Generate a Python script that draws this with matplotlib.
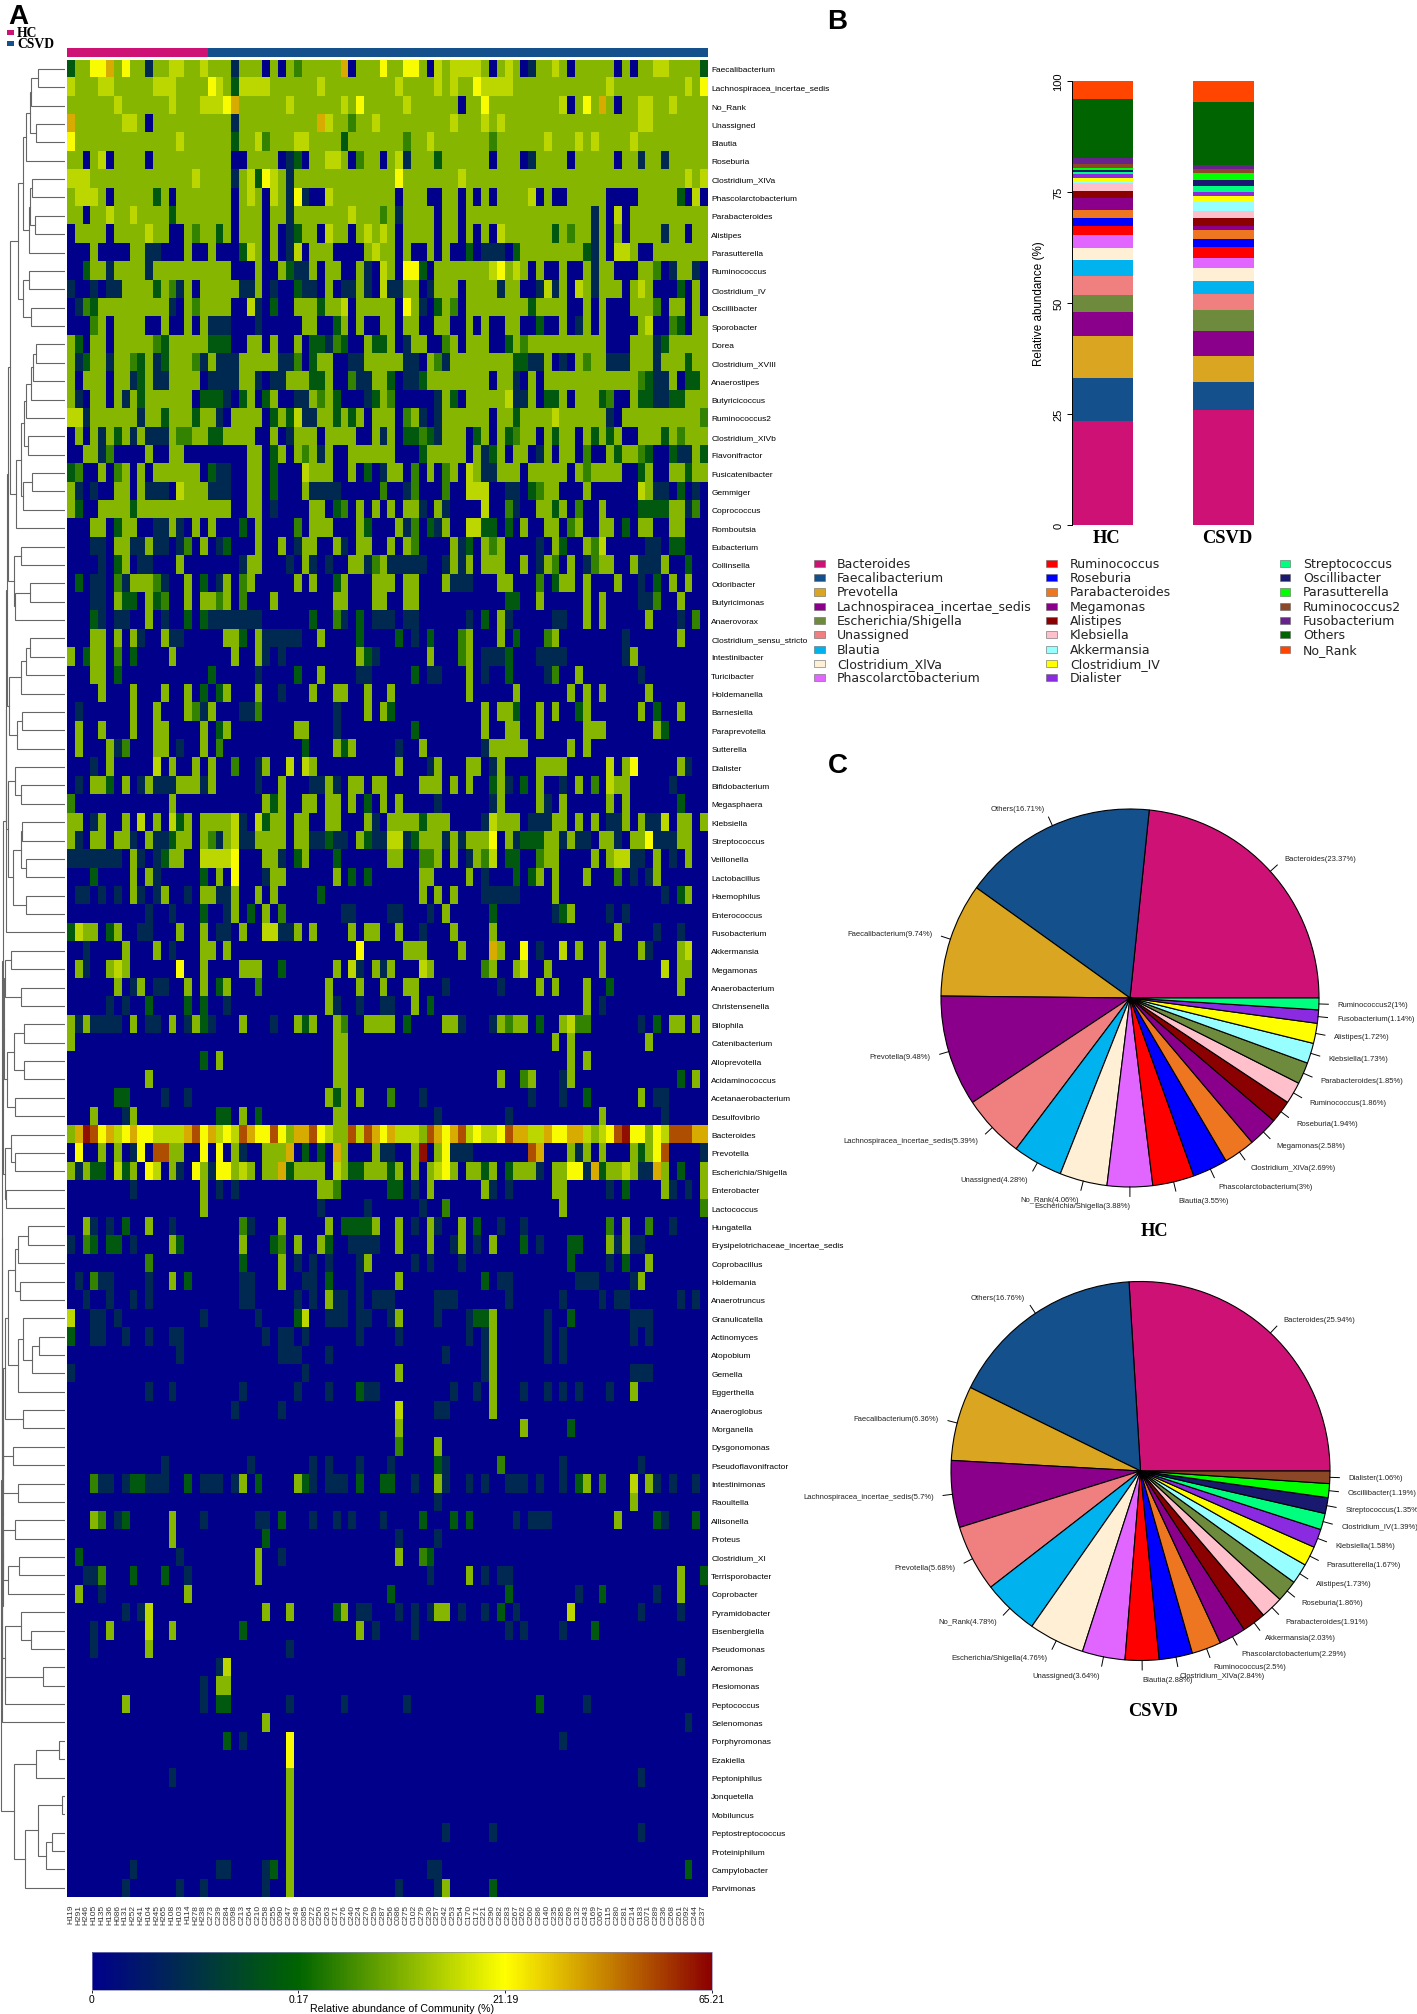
import matplotlib
matplotlib.use("Agg")
import matplotlib.pyplot as plt
import numpy as np
from matplotlib.colors import LinearSegmentedColormap, ListedColormap
from matplotlib.patches import Rectangle

W, H = 1417, 2015

genera = ["Faecalibacterium", "Lachnospiracea_incertae_sedis", "No_Rank", "Unassigned", "Blautia", "Roseburia",
          "Clostridium_XlVa", "Phascolarctobacterium", "Parabacteroides", "Alistipes", "Parasutterella",
          "Ruminococcus", "Clostridium_IV", "Oscillibacter", "Sporobacter", "Dorea", "Clostridium_XVIII",
          "Anaerostipes", "Butyricicoccus", "Ruminococcus2", "Clostridium_XlVb", "Flavonifractor",
          "Fusicatenibacter", "Gemmiger", "Coprococcus", "Romboutsia", "Eubacterium", "Collinsella", "Odoribacter",
          "Butyricimonas", "Anaerovorax", "Clostridium_sensu_stricto", "Intestinibacter", "Turicibacter",
          "Holdemanella", "Barnesiella", "Paraprevotella", "Sutterella", "Dialister", "Bifidobacterium",
          "Megasphaera", "Klebsiella", "Streptococcus", "Veillonella", "Lactobacillus", "Haemophilus",
          "Enterococcus", "Fusobacterium", "Akkermansia", "Megamonas", "Anaerobacterium", "Christensenella",
          "Bilophila", "Catenibacterium", "Alloprevotella", "Acidaminococcus", "Acetanaerobacterium",
          "Desulfovibrio", "Bacteroides", "Prevotella", "Escherichia/Shigella", "Enterobacter", "Lactococcus",
          "Hungatella", "Erysipelotrichaceae_incertae_sedis", "Coprobacillus", "Holdemania", "Anaerotruncus",
          "Granulicatella", "Actinomyces", "Atopobium", "Gemella", "Eggerthella", "Anaeroglobus", "Morganella",
          "Dysgonomonas", "Pseudoflavonifractor", "Intestinimonas", "Raoultella", "Allisonella", "Proteus",
          "Clostridium_XI", "Terrisporobacter", "Coprobacter", "Pyramidobacter", "Eisenbergiella", "Pseudomonas",
          "Aeromonas", "Plesiomonas", "Peptococcus", "Selenomonas", "Porphyromonas", "Ezakiella", "Peptoniphilus",
          "Jonquetella", "Mobiluncus", "Peptostreptococcus", "Proteiniphilum", "Campylobacter", "Parvimonas"]

samples = ["H119", "H291", "H246", "H105", "H135", "H136", "H086", "H131", "H252", "H241", "H104", "H245", "H265",
           "H108", "H103", "H114", "H278", "H238", "C273", "C239", "C284", "C098", "C213", "C264", "C210", "C258",
           "C255", "C090", "C247", "C249", "C085", "C272", "C250", "C263", "C271", "C276", "C240", "C224", "C270",
           "C259", "C287", "C256", "C086", "C275", "C102", "C279", "C230", "C257", "C242", "C253", "C254", "C170",
           "C171", "C221", "C290", "C282", "C283", "C267", "C262", "C260", "C286", "C140", "C235", "C285", "C269",
           "C132", "C243", "C169", "C067", "C115", "C280", "C281", "C214", "C183", "C071", "C289", "C236", "C268",
           "C261", "C092", "C244", "C237"]

# heatmap cells: first digit is the row's usual level,
# then column:level exceptions. level 0 navy ... 4 olive ... 6 yellow ... 9 dark red
rows_top = [
    "4 0:2 3-4:6 5:7 7:6 10:1 13-14:5 17:5 21:1 25:0 27:0 29:3 35:7 36:0 40:6 43-44:6 46:0 47:5 49-50:5 51-52:5 54:0 56:5 58:0 59:1 62:5 64:0 70:0 72:0 75-76:5 81:2",
    "4 0:5 4-5:5 11-13:5 18:6 19:5 21:2 22-25:5 32:5 42:5 47:5 49:5 52:6 53-56:5 69:5 79:5 81:6",
    "4 6:5 13:5 17-19:5 20:6 21:7 28:5 35:5 37:6 43:5 50:0 53:6 63:5 64:0 66:6 68:7 70:0 73-74:5 77:5",
    "4 0:7 7-8:5 10:0 21:1 32:7 33:5 36:3 39:5 49:5 53:5 55:5 73-74:5",
    "4 0:6 14:5 21:2 24:5 25:3 29-30:5 35:2 43:3 46:5 54:3 61:5 65:5 67:5 72:5",
    "4 2:0 4:5 5:0 10:0 21-22:0 27:0 28:1 29:2 30:0 33-34:5 36:0 37:3 40:0 42:5 43:1 47:2 54:0 58:0 59:1 64:0 70:0 73:1 76:1",
    "4 0-2:5 16:5 21:1 23:5 24:2 25:6 26:5 28:1 42:6 50:5 79:5 81:5",
    "4 1-3:5 5:0 11:2 13:0 21:0 23:5 25:0 26:5 28:1 29:6 30:1 31-32:0 33:5 42:0 46-47:0 50:0 52:0 54:0 59:5 60:0 62-63:0 69-72:0 78:2 79:0 80:5 81:0",
    "4 2:0 5:5 8:5 13:2 21:0 25:0 28:1 36:5 40:3 42:1 47:0 50:0 67:1 69:0 70:5 71:0",
    "4 0:0 5:0 10:5 13-14:0 16:3 19:2 21:0 25:0 27:0 28:1 29:2 32:0 33:5 36:0 38:5 40:5 42:0 47:0 50:0 52:0 54:0 55:5 62:2 64:3 67:1 69:0 71:0 76:1 79:0",
    "4 0-2:0 4-7:0 10-11:1 12-14:0 16-17:0 19-21:0 22:2 23:5 25:0 27:0 28:1 29:5 30:0 34-37:0 39:5 42:0 44-45:0 47:0 49-50:0 51:2 52:0 53-55:1 56:0 57:2 66:2 67:1 69:0 70-71:5 73-74:0",
    "4 0-1:0 2:2 5:1 10:1 21-23:0 25-26:0 28:2 29-30:1 32:0 35-36:0 38:1 39:0 40:5 42:0 43-44:6 45:2 46:0 54:5 55:6 57:5 59:0 61-62:0 64-65:0 67:1 70-72:0 75:3 76:0 77:1 80:1 81:0",
    "4 0:1 1-2:0 3:1 4:0 5-6:1 11:2 13:3 14:1 16:0 22-23:1 25:0 26:1 27-28:0 29:2 30-31:1 32:0 34:0 35-36:1 38:1 39:0 40:5 41-42:1 45:0 46:1 50:0 55:1 58-59:0 60:1 61:5 62:1 64:0 65:5 67:1 71:0 73:5 75-77:0 78:2 79:0 81:0",
    "4 0:0 1:1 2:3 3:2 13:1 14:0 16:3 21-22:0 23:5 24:1 25:0 26:2 27-28:0 32:2 35:5 36:0 42:0 43:6 45:1 46:0 47:2 49:3 50:0 59:2 64-65:0 67:0 69-71:0 75:3 76:0 79:0 81:0",
    "4 0-2:0 3:3 5:0 10-11:0 13-14:0 16:0 18-20:1 21-23:0 24:1 25-29:0 32-33:0 34:2 36:0 38-39:0 42:0 45-46:0 49-50:0 52:0 54-55:0 58-59:0 60:2 61-62:0 64:0 65:1 67:0 69-72:0 74:5 75-76:0 77:3 78:2 79:0",
    "4 1:2 2:0 5:0 11:3 12:2 18-20:2 21-22:0 25:0 27-28:0 30:0 31-32:2 33:1 34:3 35:2 36-37:0 39-40:2 42:0 43:1 46-47:0 48:3 50:0 54-55:0 56:2 58:3 69-71:0 75:1 76:2",
    "4 1:1 2:2 5:1 8:3 9:2 11:1 12:2 16:3 17:1 19-21:1 27-28:1 29:3 30:0 31:2 34-35:0 36-37:1 43-44:1 45:0 47:3 48:1 57-58:2 59-60:1 62:0 63:1 64:0 66:3 69-71:1 75:1 79:2",
    "4 1:0 5:0 8:1 9:2 11-12:1 17:0 18-21:1 24:1 25:0 26:1 27:1 31-32:2 34-35:0 36:3 37-38:1 41:2 42:0 43-44:1 45:2 54:0 57:1 58:0 60:0 73:3 74:2 75-76:1 78:0 79-80:2",
    "4 1:1 2:0 5:0 7:1 9:2 16:0 17-19:2 20:1 21:0 22:2 24:0 25:2 27-28:0 29-30:1 32:3 34:2 35-37:0 38:1 39:2 41:3 42-43:0 44-46:0 47:1 49:2 50:0 56:5 57-58:1 60:0 61-62:2 64:0 68:2 69:3 70-71:0 73-74:2 75-76:1 77-78:2",
    "4 0-1:5 2:1 9:1 12:2 16:2 19:1 20:0 25:0 26:2 28:2 29:5 30-31:1 34:2 36:2 38:0 42:0 43:3 45:1 46:0 47:1 54:0 57:2 62:5 69:1 70:0 81:3",
    "4 0:0 2:0 4:1 6:2 8:1 10-12:1 14-15:3 18-19:2 24-25:0 27:0 28:1 32:0 37-38:0 40:1 42:0 43-44:2 45:3 46:2 47:1 51:0 52:2 54:0 56:2 57:3 60:0 62:2 65:0 67:2 69:2 71-72:0 76:2 78:3",
    "4 0-1:0 4:1 5:3 6-9:0 11-12:0 15-22:0 25:0 26:2 28:0 30:3 32:1 34-35:0 42-44:0 45:2 51:0 53:1 54:2 56:0 59:0 60:1 62:0 65:0 66:3 67-68:0 70:2 73:3 74:2 75-76:0 77:2 78-79:1 81:2",
    "4 0:2 1:3 2-3:0 5:0 6:3 8:0 10:0 17:0 18:2 19-20:1 21-22:0 25:0 26:2 27-29:0 30:5 34-35:0 37:0 38:2 39:0 40:1 43:0 44:3 45:0 47:0 48:3 50:0 51:5 53-54:1 58:0 64:0 66:3 71-72:0 73:2 75-76:0 79:2",
    "0 0:4 1:1 3:1 6-7:4 9:4 10-12:1 14:5 15-17:4 18-20:1 23-24:4 26:2 30:4 31-34:1 40:3 43:1 44:3 48:3 51-53:5 56-57:1 59:2 60:3 61-62:4 66:4 73:5 74:4 75-76:1 78:2 80:1",
    "0 0:4 1:2 4-7:4 8:2 9-20:4 23-24:4 26:1 31-32:4 34:2 35:3 37:4 39:4 41:4 43-44:4 45:1 47:4 48:1 53:5 56:3 57:1 60-61:4 62:2 63:4 65:3 68:4 73-76:2 77-78:4 79:1 80:3",
]

rows_mid = [
    "0 3-4:4 6:2 7-8:4 11-12:1 13:4 14:1 16:4 18:4 22:2 24:4 29:3 31-33:4 37:4 38:2 42:4 43:1 44:3 46:2 47:1 48:4 51-52:5 53-54:2 56:2 58:4 61-62:4 64:3 65:4 68-69:4 71:2 73-74:4 77-78:4",
    "0 3-4:1 6-7:4 8-9:1 10:4 11-12:1 14:1 15:3 17:4 19:1 20:2 24:4 27:4 29:1 30-31:4 34:4 35:1 37-38:4 41:4 43:4 44:3 49:4 50:1 51:2 53:4 54:3 55:4 60:1 62:4 63:2 66:4 67:3 68:5 74-75:1 77-78:2",
    "0 4:1 6:2 7:4 9:1 10:1 14:4 22:1 23-24:4 28:1 30:4 31:1 33:1 36-37:4 38:1 39:3 40:4 41:1 42-45:1 48:1 49:4 50:1 51:4 53-55:4 58:4 60:1 61:4 62:3 64:4 66:1 67:3 68-69:4 72:4 73-75:1 76:4 79:2",
    "0 1:2 3-4:1 6:3 7:1 8-10:4 11:3 12:1 15:4 17:2 19:1 20:4 22:3 23:4 29:4 31:4 34:2 35:4 39-41:4 43-44:4 48:4 49-51:1 55-56:4 60:3 62:2 63-64:4 66:4 70:4 73:1 75:2 77:4 79:4",
    "0 3-4:1 6:4 7-8:2 10:4 11:2 12:3 15:4 17-18:4 19:3 20:4 22:3 26:4 34-35:4 39-40:4 43-44:4 56-57:2 60:4 66:4 68:4 73-74:1 75:3 78:4",
    "0 3:2 4:1 6-7:1 10:4 12:1 15:2 17:2 18-24:1 31:2 34:3 35:1 37:2 39-41:1 43-44:1 51:1 53:2 55:4 56:1 62:1 63:1 66:4 68:4 74:4 78:1 80:3",
    "0 3-4:4 6:4 8:4 9:1 12:4 13-14:1 20-21:4 22:2 24:4 25-29:1 32:4 37:2 42:2 44:1 46:2 50:3 51:4 55:4 57:2 61:3 62:4 71:1 78:4",
    "0 0:4 2:2 3-4:4 6:3 8:2 13:4 21:4 24:4 25:1 27:1 37:4 38:2 39:1 46:4 50:3 51:4 53-55:1 56:2 60-63:1 71:1 72:4",
    "0 3-4:4 6:2 18:2 24:1 29:2 32:4 37-38:1 44:2 46-47:1 51:4 53:1 56:2 61:1 62:3 65:4 73:1",
    "0 4:4 8:4 12:4 15:4 17:2 19:2 20:4 24:4 27:1 31:4 34-35:4 38:4 41:4 51:4 57:4 64:4 66:4 68:4 74:4",
    "0 1:1 8:4 11:4 15:4 16:3 17:1 18:4 22-23:1 24:3 34:1 38:4 40:4 41:2 53:4 55-56:4 57:2 60:4 62:4 65:2 66:4 73:4 75:2 78:4",
    "0 1:4 4:4 8:4 11-12:4 17:4 19:2 20:4 29-30:4 34:1 44:2 53:4 56-57:4 60:4 66-68:4 75:4 76:2",
    "0 1:4 5:4 6:1 7:3 11-12:4 14:1 17:4 19:3 30:2 34:4 35:2 36:4 42:1 45:4 53:1 54-58:4 64:4 66:4",
    "0 3:1 5:4 11:5 13:4 16:4 18:4 21:3 24:1 25:4 28:5 30:5 31:4 42:4 46:1 47:4 51-52:4 54:1 55:4 60-63:4 69:5 71:4 72:6 78:4 79:1",
    "0 1:1 3-4:4 5:2 7:4 9:1 10:4 11-13:1 14-16:4 17:1 18:4 24:1 27:4 31-32:1 33:4 34:1 36-37:4 39-40:4 45-47:4 49:4 51:4 54:2 55:4 56:1 58:2 60:4 63:1 65:4 67:3 69:5 70-71:4 77:1",
    "0 0:3 13:4 25:4 26:2 27:4 30-31:4 33-34:4 36:4 38:2 40:4 42:4 47:1 54:1 55:4 60:4 61:1 63:4 69:4 71:4 78:2",
    "0 0-1:4 3:1 4:4 7:4 9:5 11:4 13:5 14:2 15:4 17-20:4 21:5 22:1 24:5 25:2 26-27:4 29-30:4 33-34:4 38:4 39:1 41-44:4 45:2 46-48:4 53:1 54:5 55-57:4 59-61:1 62-63:4 65:4 67:4 69-70:1 71:4 73:4 74-75:1 76:5 78-79:4 81:4",
    "0 0:4 1:1 3-4:4 6-7:4 8:1 10:4 11-12:1 13:2 14-15:4 17:4 18:3 19:1 20:4 21:5 22-23:1 24-27:4 29-30:4 31-32:1 33:2 34-35:1 37:4 38:2 39-40:1 41-42:5 43:1 44:2 45-47:4 48:1 49:4 50:1 51-53:4 54:6 56:4 57:1 58-60:2 61-62:4 63:1 64:4 65-66:1 68-69:4 70:1 72-73:4 74:6 75-77:1 78-79:4",
    "0 0-6:1 8:4 9:1 11:1 12:2 13-14:4 17-20:5 21:6 25-26:4 27:1 29:2 30:4 34:2 41-42:4 45-46:3 47:4 49:4 51:1 52:4 53:3 54:5 56-57:2 60:3 61-62:4 67:4 69:4 70-71:5 72-73:1 75:4 77:1 79:4",
    "0 3:2 8:4 10:4 11:1 17:2 19:4 21:6 25:1 26-27:4 34:4 36:2 38:2 45-46:4 51:4 53:1 57:2 59:2 60:4 62:4 66:4 70:3 72:1 74:1 75:4",
    "0 1-2:1 4:1 6:1 8:4 9:1 11:1 12:4 15:1 17-18:4 19-20:1 21:4 24:4 26:4 32:2 45:4 47:4 49:4 53-57:1 62:4 76:1 78:2 79:4",
    "0 10:1 13:1 17:2 20:1 21:4 23:2 25:4 27:3 35-36:1 41-42:1 46:1 48:4 54:2 62:1 63:2 64:4 69:1 71:1",
    "0 0:2 1:5 2-3:4 5:2 6:4 9-10:1 14:4 17:4 19-20:1 22:4 25-26:5 27-28:1 29:4 31:4 36:4 38-39:4 42:4 45:1 49:4 54:4 70:4 75:1 78:1",
    "0 2:1 7:4 11:4 13:1 17-18:4 20:4 37:6 43-45:4 50:4 54:7 55:4 58:6 60:1 63:5 65:4 68:4 73:4 74:1 78:4 79:5",
    "0 1:4 2:1 5:4 6:5 7:4 14:6 17:4 22-24:4 27:2 34:4 36:5 37:1 39:4 40:1 41:4 45:5 46:4 53:3 54:4 57:4 58:5 61:4 68:4 76:5 78-79:4",
]

rows_low = [
    "0 6:4 8:1 9:4 11-12:1 15:4 17:4 19:2 20:4 24:3 33:4 37:4 40:4 43-44:4 48:1 55:1 60:4 62:4 66:4 69:2 78:4",
    "0 5:1 7:1 10:2 15:2 17:2 20:1 33:4 34:1 37:1 40-41:1 44:4 46:2 66:4 68:1",
    "0 0:4 1:1 2:4 3-6:1 8:4 10-11:1 13:4 15:1 16:4 17:2 18:1 22:4 26:1 29:4 30:2 31:4 34:4 35:3 38-41:4 43:2 48-49:4 50:1 54:1 55:4 56:3 57-58:4 60:2 63:4 64:5 65-66:3 73:1 75:2 77-78:4 80:4",
    "0 0:4 34-35:4 62:4 64:4 74:4",
    "0 17:2 19:4 34-35:4 64:4 66:4",
    "0 10:4 34-35:4 55:4 58:3 59:4 63:1 64:4 78:2 80:4",
    "0 6-7:2 12:1 15:1 33:4 34:2 35:4 37:4 41:3 45:1 59:1 63:1 66:2 73:4 75-76:1",
    "0 3:4 7:1 8:4 19-20:2 22:4 24:2 34-35:4 47:1 56:1 68:4 76:1",
    "4798675676655557867565876686477865448587675554876785655687755766775456896646588877",
    "0 1:6 4:4 6:4 8:1 9:6 11-12:8 13-14:4 17:6 19:6 21:4 22:1 25-27:4 28:7 30:2 32:2 34:7 35:4 39:4 40-41:1 44:4 45:9 47:4 48:6 49-51:1 59:8 60:7 64:4 65:1 66:4 68:4 72:4 73:2 74:4 75:6 76:8 81:1",
    "4 1:1 3-4:2 5:0 6:5 7:2 9:0 10:6 11:5 12:0 14:1 15:0 16:6 18:1 19-20:6 22:5 24:0 27:7 28:2 33:0 34:5 36-37:2 41:2 43:0 45:0 47:5 48:6 50:0 53:2 55:0 56:2 60:1 61:0 64-65:6 66:1 67:7 68:2 71:5 73-74:1 75:7 77:0 78:2 79-80:0",
    "0 8:1 17:4 19:1 21:1 32-33:4 34:3 41-42:2 44:1 46:4 53:4 54:1 56:1 62-63:4 69:1 71:2 76:4 77:1 79:1 81:4",
    "0 17:4 32:1 38:1 45:1 48:3 63:4 81:3",
    "0 2:4 3:1 5:1 7:2 10:4 13:1 22:3 23:1 27:4 33:4 35-38:2 39:4 42:4 44:1 46:4 47:1 50:4 52:2 55:1 58:1 69:3 71:4 74:3 77:1",
    "0 0:1 2:3 3:2 5-6:2 8:1 13:4 14:2 22:4 26:2 27:3 29:4 32:4 33:2 36-39:1 42:4 46:4 49:1 50:4 52:1 54:4 58:2 60:1 64-65:2 69:4 70:1 71:4 72-73:1",
    "0 10:3 22:2 27:4 29:1 31:1 33:1 37:1 38:4 44:1 46:1 50:1 64:2 69:1 71:2 74:4",
    "0 1:1 3:3 4-5:1 10:1 13:4 15:2 22-23:1 27:4 30-31:1 33:2 37:1 42:4 53:2 55-56:1 65-67:1 72:1 73:4",
    "0 2:1 5:1 8:1 10:1 22-23:1 29:1 31:1 33:4 34-35:1 37:1 39-41:1 47-49:1 56:1 63:1 68:1 70-71:1 78:1 80:1",
    "0 0:5 3-4:1 6:1 17:1 24:1 29:2 30:5 33-35:1 37-38:1 41:1 42:4 47:1 51:1 52-53:2 54:4 61:1 64:2 72-74:1",
    "0 0:2 3-4:1 7:1 10:1 13-14:1 25:1 27-28:1 30:1 37:1 42:1 51:1 53:1 54:4 61:1 63:1 72:1 74:1",
    "0 14:1 27-29:1 33:1 48:1 53:1 54:4 61:1 63:1",
    "0 0:1 30:1 42:4 53:1 54:4 72-74:1",
    "0 10:1 13:1 22:1 29:1 33:1 37:2 38-39:1 49:1 52:1 54:4 58:1 61:1 63:1 65:1 69:1 72:4",
    "0 21:1 27:1 42:5 47-48:1 54:4",
    "0 42:4 58:4 64:2",
]

rows_sparse = [
    "0 42:3 47:4",
    "0 12:1 23:1 31:1 33:1 37:1 41:1 47:2 48:1 55:3 63:1 73:1",
    "0 3:3 4-5:1 7:1 8-9:2 10-12:1 15:2 17:1 18-19:1 21:1 22:4 24:2 29:4 30:2 31:1 33-35:1 37:2 40-41:2 44:1 47:4 48:1 51:1 53:1 56-58:1 60:1 63:1 65:2 66:4 68:3 72:5 74:4 75:1 77:1 80:1",
    "0 47:1 72:4",
    "0 3:4 4:3 6:1 7:2 13:4 17:1 24-25:1 27:2 31:1 34:1 36:1 40:1 45:2 49:2 51:2 57:1 59-61:1 70:4 75:2 76:1 80:2",
    "0 13:4 25:2 42:1 47:1",
    "0 1:2 14:1 24:4 27:1 42:4 45:3 46:2",
    "0 2-3:1 4:3 8:2 12:2 15:1 24:4 46:1 51:4 53:1 55-56:1 78:4 81:2",
    "0 1:4 4:1 15:4 41:2 56:2 65:1 68:2 75:1 78:4",
    "0 7:1 9:1 10:5 25:4 28:4 34:2 35:4 37-38:1 42:1 44:1 46:1 47-48:4 50:1 53:1 55:2 57:1 64:5 73:1 78:1",
    "0 3:1 5:4 10:5 13:4 22:2 37:4 39:1 44:1 56:1 58:1 63:1 67:2",
    "0 3:1 10:4 28:1",
    "0 19:1 20:5 78:1",
    "0 17:1 19-20:4",
    "0 7:4 17:1 19-20:2 28:1 35:1 43:1 60:2 66:1",
    "0 25:4 79:1",
    "0 20:2 22:1 28:6 63:1",
    "0 28:6",
    "0 13:1 28:4 73:1",
    "0 28:4",
    "0 28:4",
    "0 28:4 48:1 54:1 73:1",
    "0 28:4",
    "0 8:1 19-20:1 25:1 26:2 28:4 46-47:1 79:2",
    "0 7:1 14:1 17:1 25:1 28:4 42:1 47:1 48:4 54:2",
]

# where each level sits on the colour bar
level_pos = [0.0, 0.14, 0.30, 0.40, 0.51, 0.58, 0.66, 0.777, 0.897, 0.98]
bar_ticks = ["0", "0.17", "21.19", "65.21"]

# dendrogram, [merge position, left, right], leaves are row numbers
top_a = [40, [50, [58, [66, [68, [83, 0, 1], 2], [78, 3, 4]], 5], [63, [66, [70, 6, 7], [76, 8, 9]], 10]],
         [50, [64, 11, 12], [68, 13, 14]]]
top_b = [47, [52, [58, [67, [72, [78, 15, 16], 17], 18], 19], [62, 20, 21]], [50, [70, 22, 23], 24]]
group1 = [18, [23, top_a, [36, top_b, 25]], [30, [47, 26, 27], [32, [66, 28, 29], 30]]]
group2 = [20, [45, [57, [65, 31, 32], 33], 34], [37, [48, 35, 36], 37]]
group3 = [17, [33, 38, [47, 39, 40]], [28, [45, [48, 41, 42], [58, 43, 44]], [58, 45, 46]]]
upper = [13, [14, [16, group1, group2], group3], 47]
middle = [6, [8, [12, [24, 48, 49], [46, 50, 51]], [15, [30, [52, 52, 53], [52, 54, 55]], [33, 56, 57]]],
          [10, [24, 58, [32, 59, 60]], [14, 61, 62]]]
lower1 = [10, [18, [32, [40, [61, 63, 64], 65], [43, 66, 67]], [40, [50, 68, [70, [85, 69, 70], 71]], 72]], [50, 73, 74]]
lower2 = [7, [28, 75, 76], [40, 77, 78]]
lower3 = [6, [32, 79, 80], [18, [42, 81, 82], 83]]
lower4 = [10, [45, 84, [69, 85, 86]], [12, [95, 87, 88], 89]]
bottom = [30, [79, [130, 91, 92], 93], [55, [84, [137, 94, 95], [100, [113, 96, 97], 98]], 99]]
tree = [3, [4, [5, [5.5, upper, middle], [5.5, [6, lower1, lower2], [5, lower3, lower4]]], 90], bottom]

# panel B, bottom to top
stack_names = ["Bacteroides", "Faecalibacterium", "Prevotella", "Lachnospiracea_incertae_sedis",
               "Escherichia/Shigella", "Unassigned", "Blautia", "Clostridium_XlVa", "Phascolarctobacterium",
               "Ruminococcus", "Roseburia", "Parabacteroides", "Megamonas", "Alistipes", "Klebsiella", "Akkermansia",
               "Clostridium_IV", "Dialister", "Streptococcus", "Oscillibacter", "Parasutterella", "Ruminococcus2",
               "Fusobacterium", "Others", "No_Rank"]
stack_colors = ["#CE1275", "#14508C", "#DAA520", "#8B008B", "#6E8B3D", "#F08080", "#00B2EE", "#FFEFD5", "#E066FF",
                "#FF0000", "#0000FF", "#EE7621", "#8B008B", "#8B0000", "#FFC0CB", "#97FFFF", "#FFFF00", "#8A2BE2",
                "#00FF7F", "#191970", "#00FF00", "#8B4726", "#68228B", "#006400", "#FF4500"]
stack_hc = [23.37, 9.74, 9.48, 5.39, 3.88, 4.28, 3.55, 2.69, 3.0, 1.86, 1.94, 1.85, 2.58, 1.72, 1.73, 0.35, 0.7, 1.0,
            0.4, 0.5, 0.4, 1.0, 1.14, 13.39, 4.06]
stack_csvd = [25.94, 6.36, 5.68, 5.7, 4.76, 3.64, 2.88, 2.84, 2.29, 2.5, 1.86, 1.91, 0.96, 1.73, 1.58, 2.03, 1.39,
              1.06, 1.35, 1.19, 1.67, 0.9, 0.9, 14.1, 4.78]

# panel C
pie_colors = ["#CE1275", "#14508C", "#DAA520", "#8B008B", "#F08080", "#00B2EE", "#FFEFD5", "#E066FF", "#FF0000",
              "#0000FF", "#EE7621", "#8B008B", "#8B0000", "#FFC0CB", "#6E8B3D", "#97FFFF", "#FFFF00", "#8A2BE2",
              "#00FF7F", "#191970", "#00FF00", "#8B4726"]
pie_hc_names = ["Bacteroides", "Others", "Faecalibacterium", "Prevotella", "Lachnospiracea_incertae_sedis",
                "Unassigned", "No_Rank", "Escherichia/Shigella", "Blautia", "Phascolarctobacterium",
                "Clostridium_XlVa", "Megamonas", "Roseburia", "Ruminococcus", "Parabacteroides", "Klebsiella",
                "Alistipes", "Fusobacterium", "Ruminococcus2"]
pie_hc_values = [23.37, 16.71, 9.74, 9.48, 5.39, 4.28, 4.06, 3.88, 3.55, 3, 2.69, 2.58, 1.94, 1.86, 1.85, 1.73, 1.72,
                 1.14, 1]
pie_csvd_names = ["Bacteroides", "Others", "Faecalibacterium", "Lachnospiracea_incertae_sedis", "Prevotella",
                  "No_Rank", "Escherichia/Shigella", "Unassigned", "Blautia", "Clostridium_XlVa", "Ruminococcus",
                  "Phascolarctobacterium", "Akkermansia", "Parabacteroides", "Roseburia", "Alistipes",
                  "Parasutterella", "Klebsiella", "Clostridium_IV", "Streptococcus", "Oscillibacter", "Dialister"]
pie_csvd_values = [25.94, 16.76, 6.36, 5.7, 5.68, 4.78, 4.76, 3.64, 2.88, 2.84, 2.5, 2.29, 2.03, 1.91, 1.86, 1.73,
                   1.67, 1.58, 1.39, 1.35, 1.19, 1.06]

plt.rcParams["font.family"] = ["Liberation Sans", "DejaVu Sans"]
SERIF = "Liberation Serif"

fig = plt.figure(figsize=(W / 100, H / 100), dpi=100, facecolor="white")


def px_axes(x0, y0, x1, y1):
    return fig.add_axes([x0 / W, 1 - y1 / H, (x1 - x0) / W, (y1 - y0) / H])


def parse_row(text):
    if " " not in text:
        return [int(c) for c in text]
    parts = text.split()
    row = [int(parts[0])] * len(samples)
    for part in parts[1:]:
        cols, level = part.split(":")
        first, _, last = cols.partition("-")
        for c in range(int(first), int(last or first) + 1):
            row[c] = int(level)
    return row


levels = np.array([parse_row(r) for r in rows_top + rows_mid + rows_low + rows_sparse])
cells = np.array(level_pos)[levels]

heat_cmap = LinearSegmentedColormap.from_list("heat", ["#00008B", "#006400", "#FFFF00", "#8B0000"])
hx0, hx1, hy0, hy1 = 66.7, 707, 60.7, 1898

# group bar
ax_group = px_axes(hx0, 49, hx1, 58)
groups = np.array([[0 if s[0] == "H" else 1 for s in samples]])
ax_group.imshow(groups, cmap=ListedColormap(["#CE1275", "#14508C"]), aspect="auto", interpolation="nearest")
ax_group.axis("off")

# heatmap
ax_heat = px_axes(hx0, hy0, hx1, hy1)
ax_heat.imshow(cells, cmap=heat_cmap, vmin=0, vmax=1, aspect="auto", interpolation="nearest")
ax_heat.set_yticks(range(len(genera)))
ax_heat.set_yticklabels(genera, fontsize=6)
ax_heat.yaxis.tick_right()
ax_heat.set_xticks(range(len(samples)))
ax_heat.set_xticklabels(samples, rotation=90, fontsize=6, color="#333333")
ax_heat.tick_params(length=0, pad=3)
ax_heat.tick_params(axis="x", pad=5)
for s in ax_heat.spines.values():
    s.set_visible(False)

# dendrogram
ax_den = px_axes(0, hy0, hx0 - 1.5, hy1)
ax_den.set_xlim(0, 143)
ax_den.set_ylim(len(genera), 0)
ax_den.axis("off")


def draw_node(node):
    if not isinstance(node, list):
        return 143, node + 0.5
    pos, left, right = node
    xl, yl = draw_node(left)
    xr, yr = draw_node(right)
    ax_den.plot([xl, pos, pos, xr], [yl, yl, yr, yr], color="#666666", lw=0.8, solid_joinstyle="miter")
    return pos, (yl + yr) / 2


draw_node(tree)

# colour bar
ax_cb = px_axes(91.6, 1953, 712, 1991)
sm = plt.cm.ScalarMappable(cmap=heat_cmap, norm=plt.Normalize(0, 1))
cb = fig.colorbar(sm, cax=ax_cb, orientation="horizontal", ticks=[0, 1 / 3, 2 / 3, 1])
cb.ax.set_xticklabels(bar_ticks, fontsize=7.5)
cb.ax.tick_params(length=2, width=0.6, pad=1)
cb.outline.set_edgecolor("#8888bb")
cb.outline.set_linewidth(0.5)
cb.set_label("Relative abundance of Community (%)", fontsize=7.7, labelpad=-1)

# panel B
ax_bar = px_axes(1071.6, 82, 1254.3, 526)
for pos, vals in [(0.5, stack_hc), (2.5, stack_csvd)]:
    base = 0
    for v, c in zip(vals, stack_colors):
        ax_bar.bar(pos, v, width=1, bottom=base, color=c, linewidth=0)
        base += v
ax_bar.set_xlim(0, 3)
ax_bar.set_ylim(0, 100)
ax_bar.set_yticks([0, 25, 50, 75, 100])
ax_bar.set_yticklabels(["0", "25", "50", "75", "100"], rotation=90, va="center", fontsize=8)
ax_bar.set_xticks([])
ax_bar.set_ylabel("Relative abundance (%)", fontsize=8.4, labelpad=6)
ax_bar.tick_params(axis="y", length=3.5, width=0.7, pad=2.5)
for name in ["top", "right", "bottom"]:
    ax_bar.spines[name].set_visible(False)
ax_bar.spines["left"].set_linewidth(0.7)


# panel C
def draw_pie(cx, cy, r, names, values):
    half = r * 1.15
    ax = px_axes(cx - half, cy - half, cx + half, cy + half)
    wedges, _ = ax.pie(values, colors=pie_colors[:len(values)], startangle=0, counterclock=True, radius=1,
                       normalize=True, wedgeprops={"edgecolor": "black", "linewidth": 0.8})
    ax.set_xlim(-1.15, 1.15)
    ax.set_ylim(-1.15, 1.15)
    for w, n, v in zip(wedges, names, values):
        a = np.deg2rad((w.theta1 + w.theta2) / 2)
        c, s = np.cos(a), np.sin(a)
        ax.plot([c, 1.05 * c], [s, 1.05 * s], color="black", lw=0.7)
        ax.text(1.1 * c, 1.1 * s, f"{n}({v}%)", ha="left" if c >= 0 else "right", va="center", fontsize=5.5,
                color="#222222", clip_on=False)


draw_pie(1130, 999, 189, pie_hc_names, pie_hc_values)
draw_pie(1140.5, 1472, 189.5, pie_csvd_names, pie_csvd_values)

# free text and legends on a pixel overlay
ov = px_axes(0, 0, W, H)
ov.set_xlim(0, W)
ov.set_ylim(H, 0)
ov.axis("off")
ov.patch.set_alpha(0)

ov.text(8, 24, "A", fontsize=20, fontweight="bold", va="baseline")
ov.text(827, 29, "B", fontsize=20, fontweight="bold", va="baseline")
ov.text(828, 773, "C", fontsize=20, fontweight="bold", va="baseline")

for y, name, color in [(33.5, "HC", "#CE1275"), (44.5, "CSVD", "#14508C")]:
    ov.add_patch(Rectangle((7, y - 2.8), 7, 5.6, facecolor=color, edgecolor="none"))
    ov.text(17, y, name, family=SERIF, fontweight="bold", fontsize=9.8, va="center")

ov.text(1106, 539, "HC", family=SERIF, fontweight="bold", fontsize=13.3, ha="center", va="center")
ov.text(1227.6, 539, "CSVD", family=SERIF, fontweight="bold", fontsize=13.3, ha="center", va="center")
ov.text(1154, 1232, "HC", family=SERIF, fontweight="bold", fontsize=13.2, ha="center", va="center")
ov.text(1153.5, 1712, "CSVD", family=SERIF, fontweight="bold", fontsize=13.2, ha="center", va="center")

legend_cols = [(814, 837), (1046, 1070), (1279.5, 1303)]
for i, (name, color) in enumerate(zip(stack_names, stack_colors)):
    col, row = divmod(i, 9)
    sx, tx = legend_cols[col]
    y = 564.3 + row * 14.3
    ov.add_patch(Rectangle((sx, y - 3.6), 10.5, 7.2, facecolor=color, edgecolor="#666666", linewidth=0.4))
    ov.text(tx, y, name, family="DejaVu Sans", fontsize=9, va="center", color="#222222")

fig.savefig("out.png", dpi=100)
